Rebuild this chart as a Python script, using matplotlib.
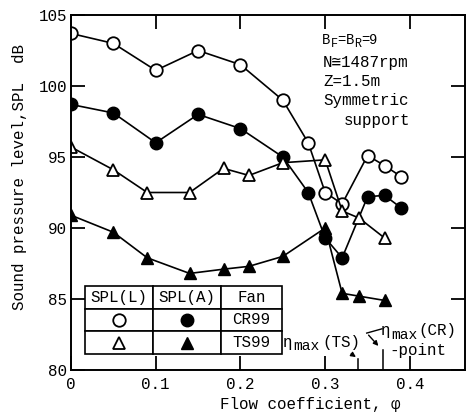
import numpy as np
import matplotlib.pyplot as plt

plt.rcParams['font.family'] = ['Liberation Mono', 'DejaVu Sans Mono']
fs = 11.4
fsub = 8.5

# CR99 fan, SPL(L) and SPL(A)
phi_cr = [0.0, 0.05, 0.10, 0.15, 0.20, 0.25, 0.28, 0.30, 0.32, 0.35, 0.37, 0.39]
splL_cr = [103.7, 103.0, 101.1, 102.5, 101.5, 99.0, 96.0, 92.5, 91.7, 95.1, 94.4, 93.6]
splA_cr = [98.7, 98.1, 96.0, 98.0, 97.0, 95.0, 92.5, 89.3, 87.9, 92.2, 92.3, 91.4]

# TS99 fan, SPL(L) and SPL(A)
phi_ts = [0.0, 0.05, 0.09, 0.14, 0.18, 0.21, 0.25, 0.30, 0.32, 0.34, 0.37]
splL_ts = [95.7, 94.1, 92.5, 92.5, 94.2, 93.7, 94.6, 94.8, 91.2, 90.7, 89.3]
splA_ts = [90.9, 89.7, 87.9, 86.8, 87.1, 87.3, 88.0, 90.0, 85.4, 85.2, 84.9]

# efficiency maximum points
phi_eta_ts = 0.339
phi_eta_cr = 0.368

W, H = 468, 412
fig = plt.figure(figsize=(W/100, H/100), dpi=100)
ax = fig.add_axes([71/W, 42/H, 394/W, 355/H])


def ptext(px, py, s, size=fs, **kw):
    # text placed in pixel units from the top-left corner
    fig.text(px/W, 1 - py/H, s, fontsize=size, va='center', **kw)


lw = 1.2
ms = 9
ax.plot(phi_cr, splL_cr, 'o-', color='k', lw=lw, ms=ms, mfc='white', mec='k', mew=1.3)
ax.plot(phi_cr, splA_cr, 'o-', color='k', lw=lw, ms=ms, mfc='k', mec='k')
ax.plot(phi_ts, splL_ts, '^-', color='k', lw=lw, ms=ms, mfc='white', mec='k', mew=1.3)
ax.plot(phi_ts, splA_ts, '^-', color='k', lw=lw, ms=ms, mfc='k', mec='k')

ax.set_xlim(0, 0.465)
ax.set_ylim(80, 105)
ax.set_xticks([0, 0.1, 0.2, 0.3, 0.4])
ax.set_xticklabels(['0', '0.1', '0.2', '0.3', '0.4'])
ax.set_yticks([80, 85, 90, 95, 100, 105])
ax.tick_params(direction='in', length=10, width=1.3, labelsize=fs,
               top=True, right=True)
ax.tick_params(axis='x', pad=5)
ax.tick_params(axis='y', pad=3)
for s in ax.spines.values():
    s.set_linewidth(1.4)

ptext(310, 405, 'Flow coefficient, φ', ha='center')
ptext(20, 177, 'Sound pressure level,SPL  dB', ha='center', rotation=90)

# operating conditions
ptext(322, 40, 'B', size=10)
ptext(330.5, 44, 'F', size=fsub)
ptext(337, 40, '=', size=10)
ptext(345.5, 40, 'B', size=10)
ptext(354, 44, 'R', size=fsub)
ptext(361, 40, '=', size=10)
ptext(369.5, 40, '9', size=10)
ptext(323, 62, 'N≅1487rpm')
ptext(323, 81, 'Z=1.5m')
ptext(323, 100, 'Symmetric')
ptext(344, 120, 'support')

# eta_max markers
ptext(283, 342, 'η')
ptext(293, 346, 'max', size=10.5)
ptext(322, 342, '(TS)')
ax.plot([phi_eta_ts, phi_eta_ts], [80, 80.8], color='k', lw=1.1)
ax.annotate('', xy=(phi_eta_ts, 80.8), xytext=(0.328, 81.25),
            arrowprops=dict(arrowstyle='-|>', color='k', lw=1.0, mutation_scale=7))

ptext(381, 331, 'η')
ptext(391, 335, 'max', size=10.5)
ptext(418, 331, '(CR)')
ptext(389, 350, '-point')
ax.plot([phi_eta_cr, phi_eta_cr], [80, 81.4], color='k', lw=1.1)
ax.plot([0.367, 0.349], [82.9, 82.6], color='k', lw=1.0)
ax.annotate('', xy=(0.365, 81.55), xytext=(0.349, 82.6),
            arrowprops=dict(arrowstyle='-|>', color='k', lw=1.0, mutation_scale=7))

# legend table
cells = [['SPL(L)', 'SPL(A)', 'Fan'], ['', '', 'CR99'], ['', '', 'TS99']]
tb = ax.table(cellText=cells, cellLoc='center', colWidths=[68, 68, 61],
              bbox=[14/394, 16/355, 197/394, 68/355])
tb.auto_set_font_size(False)
tb.set_fontsize(fs)
for c in tb.get_celld().values():
    c.set_linewidth(1.2)
    c.set_facecolor('white')
cx = [(119 - 71)/394, (187 - 71)/394]
ry = [(370 - 320)/355, (370 - 343)/355]
ax.plot(cx[0], ry[0], 'o', ms=ms, mfc='white', mec='k', mew=1.3, transform=ax.transAxes, zorder=5)
ax.plot(cx[1], ry[0], 'o', ms=ms, mfc='k', mec='k', transform=ax.transAxes, zorder=5)
ax.plot(cx[0], ry[1], '^', ms=ms, mfc='white', mec='k', mew=1.3, transform=ax.transAxes, zorder=5)
ax.plot(cx[1], ry[1], '^', ms=ms, mfc='k', mec='k', transform=ax.transAxes, zorder=5)

plt.savefig('out.png', dpi=100)
